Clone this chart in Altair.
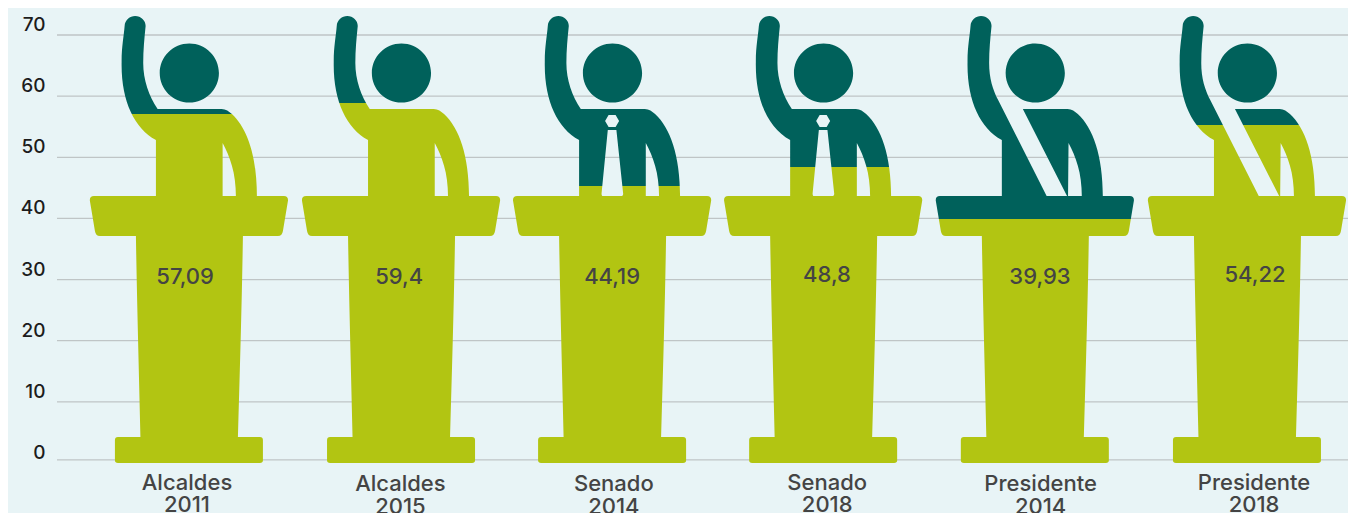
import altair as alt
import pandas as pd

# ---- data ----
offices = ["Alcaldes", "Alcaldes", "Senado", "Senado", "Presidente", "Presidente"]
years = ["2011", "2015", "2014", "2018", "2014", "2018"]
value_labels = ["57,09", "59,4", "44,19", "48,8", "39,93", "54,22"]
fill_levels = [57.1, 58.8, 45.3, 48.4, 39.9, 55.2]
y_ticks = [0, 10, 20, 30, 40, 50, 60, 70]
grid_levels = [0.5, 10, 20, 30, 40, 50, 60, 70]
variants = ["plain", "plain", "tie", "tie", "sash", "sash"]

# ---- layout ----
PLOT_W, PLOT_H = 1291, 428
PX = PLOT_H / 70.0
slots = list(range(6))
figure_shift = [0.009, 1.003, 1.992, 2.981, 3.973, 4.967]
value_label_slot = [-0.009, 0.994, 1.992, 2.999, 3.997, 5.005]
value_label_level = [30.5, 30.5, 30.5, 30.8, 30.5, 30.8]
office_level = [-3.3, -3.5, -3.5, -3.2, -3.5, -3.2]
year_level = [-6.9, -7.2, -7.2, -6.9, -7.2, -6.9]

OLIVE = "#b2c512"
DARK = "#00615b"
BG = "#e8f4f6"
FONT = "Inter"


def path(*segs):
    out = []
    for s in segs:
        cmd, nums = s[0], s[1:]
        coords = []
        for i, n in enumerate(nums):
            coords.append(f"{n if i % 2 == 0 else n - 463:.2f}")
        out.append(cmd + " ".join(coords))
    return "".join(out)


k = 16.35
HEAD = path(("M", 0.4 - 29.6, 73),
            ("C", 0.4 - 29.6, 73 - k, 0.4 - k, 43.4, 0.4, 43.4),
            ("C", 0.4 + k, 43.4, 30, 73 - k, 30, 73),
            ("C", 30, 73 + k, 0.4 + k, 102.6, 0.4, 102.6),
            ("C", 0.4 - k, 102.6, -29.2, 73 + k, -29.2, 73), ("Z",))

PODIUM = path(("M", -95, 196), ("L", 95, 196), ("C", 98, 196, 99.5, 198, 99, 201),
              ("L", 94, 231), ("C", 93.5, 234, 92, 236, 89, 236), ("L", 54, 236),
              ("C", 53, 300, 51, 370, 49, 437), ("L", 71, 437), ("C", 73, 437, 74, 438, 74, 440),
              ("L", 74, 460.5), ("C", 74, 462, 73, 463, 71, 463), ("L", -71, 463),
              ("C", -73, 463, -74, 462, -74, 460.5), ("L", -74, 440), ("C", -74, 438, -73, 437, -71, 437),
              ("L", -48.5, 437), ("C", -50, 370, -52, 300, -53, 236), ("L", -89, 236),
              ("C", -92, 236, -93.5, 234, -94, 231), ("L", -99, 201), ("C", -99.5, 198, -98, 196, -95, 196), ("Z",))

ARM_UP = [("L", -33, 140), ("C", -55, 128, -68, 100, -67.3, 62), ("C", -67.5, 48, -65, 35, -64.3, 26),
          ("C", -64, 20, -59, 16, -53.8, 16), ("C", -48, 16, -43.3, 20.5, -43.3, 26),
          ("C", -44.5, 38, -45.7, 50, -45.7, 63)]
RIGHT_ARM = [("L", 32.7, 109), ("C", 37, 109, 40, 111.5, 43, 114), ("C", 58, 128, 68, 155, 68, 197),
             ("L", 47, 197), ("C", 47, 172, 41, 157, 33.7, 143)]

BODY = path(("M", -33, 197), *ARM_UP, ("C", -45.7, 80, -40, 96, -31.3, 109), *RIGHT_ARM,
            ("L", 33.7, 197), ("Z",))
TIE = path(("M", -4.3, 130), ("L", -10.5, 193), ("C", -10.7, 195, -10, 196.4, -8.5, 196.4), ("L", 9, 196.4),
           ("C", 10.6, 196.4, 11.3, 195, 11, 193), ("L", 4.3, 130), ("Z",))
KNOT = path(("M", -7, 121), ("L", -3.5, 127), ("L", 3.5, 127), ("L", 7, 121), ("L", 3.5, 115), ("L", -3.5, 115), ("Z",))
SASH_LEFT = path(("M", -33, 197), *ARM_UP, ("C", -45.7, 78, -42, 90, -36.7, 100), ("L", 12.3, 197), ("Z",))
SASH_RIGHT = path(("M", -12, 109), *RIGHT_ARM, ("L", 33.2, 197), ("L", 32.7, 197), ("Z",))

SHAPES = {
    "plain": HEAD + BODY + PODIUM,
    "tie": HEAD + BODY + TIE + KNOT + PODIUM,
    "sash": HEAD + SASH_LEFT + SASH_RIGHT + PODIUM,
}
TOP, BOTTOM = 16.0, 463.0


def level_fill(level):
    stop = ((463 - level * PX) - TOP) / (BOTTOM - TOP)
    return alt.Gradient(
        gradient="linear", x1=0, x2=0, y1=0, y2=1,
        stops=[alt.GradientStop(offset=0, color=DARK), alt.GradientStop(offset=stop, color=DARK),
               alt.GradientStop(offset=stop, color=OLIVE), alt.GradientStop(offset=1, color=OLIVE)],
    )


x_scale = alt.Scale(domain=[0, 5], range=[130, 1197], nice=False, zero=False)
y_scale = alt.Scale(domain=[0, 70], nice=False, zero=False)
y_axis = alt.Axis(
    values=y_ticks, grid=False, domain=False, ticks=False, title=None,
    labelOffset=-10.5, labelPadding=12, labelFont=FONT, labelFontSize=19,
    labelColor="#1c1c1c", labelFontWeight=500)

grid = alt.Chart(pd.DataFrame({"y": grid_levels})).mark_rule(color="#bfc5c6", strokeWidth=1.3).encode(
    y=alt.Y("y:Q", scale=y_scale, axis=y_axis),
)

layers = [grid]
for i, lvl in enumerate(fill_levels):
    layers.append(
        alt.Chart(pd.DataFrame({"x": [figure_shift[i]], "y": [0]})).mark_point(
            shape=SHAPES[variants[i]], size=4, filled=True, opacity=1, fill=level_fill(lvl), strokeWidth=0,
        ).encode(
            x=alt.X("x:Q", scale=x_scale, axis=None),
            y=alt.Y("y:Q", scale=y_scale, axis=y_axis),
        )
    )

table = pd.DataFrame({
    "slot": slots, "office": offices, "year": years, "value": value_labels,
    "vx": value_label_slot, "vy": value_label_level, "oy": office_level, "yy": year_level,
})


def text_layer(xf, yf, tf, size):
    return alt.Chart(table).mark_text(
        font=FONT, fontSize=size, color="#444444", align="center", baseline="middle", fontWeight=500,
    ).encode(
        x=alt.X(f"{xf}:Q", scale=x_scale, axis=None),
        y=alt.Y(f"{yf}:Q", scale=y_scale, axis=y_axis),
        text=alt.Text(f"{tf}:N"),
    )


layers += [text_layer("vx", "vy", "value", 22),
           text_layer("slot", "oy", "office", 22),
           text_layer("slot", "yy", "year", 22)]

chart = alt.layer(*layers).properties(
    width=PLOT_W, height=PLOT_H,
    background=BG,
    autosize=alt.AutoSizeParams(type="none"),
    padding={"left": 49, "top": 27, "right": 0, "bottom": 50},
).configure_view(stroke=None)

chart.save("out.html", embed_options={"renderer": "svg", "actions": False})
